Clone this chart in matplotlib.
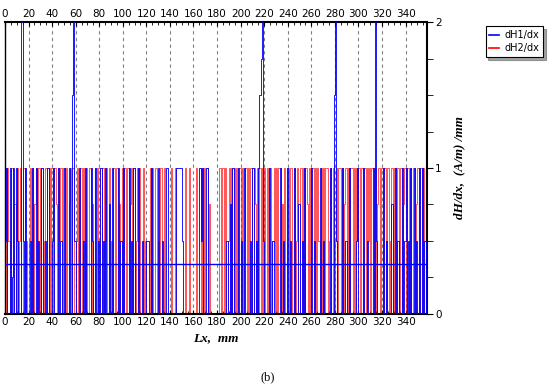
import numpy as np
import matplotlib.pyplot as plt

# values in quarter units (4 = 1.0), one sample per mm
h1_q = [
    2, 4, 0, 0, 4, 0, 1, 4, 0, 4, 2, 0, 0, 0, 8, 2, 0, 4, 0, 0,
    0, 2, 0, 4, 0, 0, 4, 0, 2, 0, 0, 4, 0, 0, 2, 0, 4, 0, 0, 0,
    2, 4, 0, 0, 0, 4, 0, 2, 0, 0, 4, 0, 0, 0, 4, 0, 0, 6, 8, 2,
    0, 0, 0, 4, 0, 0, 2, 0, 4, 0, 0, 0, 0, 4, 2, 0, 4, 0, 0, 2,
    0, 4, 0, 2, 0, 4, 0, 0, 3, 0, 0, 4, 0, 0, 0, 0, 4, 0, 2, 0,
    4, 0, 0, 0, 0, 4, 0, 2, 0, 4, 0, 0, 0, 4, 0, 0, 2, 0, 0, 0,
    2, 2, 0, 0, 4, 0, 0, 0, 0, 0, 4, 0, 0, 2, 0, 0, 0, 4, 0, 0,
    0, 0, 0, 0, 0, 4, 4, 4, 4, 4, 2, 0, 0, 0, 0, 0, 0, 0, 0, 0,
    0, 0, 0, 0, 0, 4, 2, 4, 0, 0, 0, 4, 0, 0, 0, 0, 0, 0, 0, 0,
    0, 0, 0, 0, 0, 0, 0, 0, 2, 0, 0, 3, 0, 4, 0, 0, 0, 0, 4, 0,
    2, 0, 0, 4, 0, 0, 0, 0, 2, 0, 4, 0, 0, 2, 0, 4, 6, 7, 8, 2,
    0, 0, 0, 0, 4, 0, 0, 2, 0, 0, 0, 0, 0, 4, 0, 0, 2, 0, 0, 4,
    0, 0, 2, 0, 0, 4, 0, 0, 0, 3, 0, 0, 2, 0, 4, 0, 0, 0, 0, 0,
    4, 0, 2, 0, 0, 0, 0, 4, 0, 0, 2, 0, 0, 0, 0, 0, 4, 0, 0, 6,
    8, 2, 0, 0, 0, 0, 4, 0, 0, 2, 0, 0, 4, 0, 0, 0, 0, 0, 2, 4,
    0, 0, 0, 0, 4, 0, 0, 2, 0, 0, 0, 0, 4, 0, 8, 2, 0, 0, 0, 0,
    0, 4, 0, 2, 0, 0, 0, 0, 3, 0, 0, 4, 0, 2, 0, 0, 0, 4, 0, 2,
    4, 0, 2, 0, 4, 0, 0, 4, 0, 2, 0, 4, 0, 0, 4, 0, 2, 0,
]

h2_q = [
    4, 0, 4, 2, 0, 4, 4, 0, 3, 0, 4, 0, 2, 4, 0, 4, 4, 0, 2, 0,
    2, 4, 0, 4, 0, 3, 4, 0, 4, 4, 0, 4, 0, 2, 4, 4, 0, 4, 0, 4,
    4, 0, 4, 3, 0, 4, 2, 4, 0, 4, 4, 0, 4, 0, 3, 4, 0, 4, 4, 0,
    2, 4, 0, 0, 4, 0, 4, 2, 0, 4, 0, 4, 4, 0, 3, 0, 4, 4, 0, 4,
    4, 0, 4, 4, 0, 2, 4, 0, 4, 0, 2, 0, 4, 0, 4, 4, 0, 3, 0, 4,
    0, 4, 4, 0, 4, 0, 3, 4, 0, 4, 0, 2, 4, 0, 4, 0, 0, 4, 0, 2,
    0, 0, 0, 4, 0, 4, 0, 4, 4, 0, 2, 0, 4, 0, 0, 4, 0, 0, 0, 0,
    0, 4, 0, 0, 4, 0, 0, 0, 0, 0, 0, 0, 0, 4, 0, 0, 4, 0, 0, 0,
    0, 0, 4, 0, 0, 0, 4, 0, 4, 0, 4, 4, 0, 3, 0, 0, 0, 0, 0, 0,
    0, 0, 4, 0, 4, 4, 0, 4, 0, 2, 4, 0, 4, 0, 4, 0, 4, 0, 4, 4,
    0, 4, 0, 2, 4, 0, 4, 0, 4, 4, 0, 4, 3, 0, 4, 0, 4, 0, 4, 0,
    4, 0, 4, 0, 4, 4, 0, 2, 4, 0, 4, 0, 4, 4, 0, 3, 0, 4, 0, 4,
    4, 0, 4, 4, 0, 4, 0, 2, 4, 0, 4, 4, 0, 4, 0, 4, 3, 0, 4, 0,
    4, 4, 0, 4, 0, 4, 2, 0, 4, 0, 4, 0, 4, 4, 0, 2, 4, 0, 4, 0,
    2, 4, 0, 4, 4, 0, 4, 0, 3, 4, 0, 4, 0, 4, 4, 0, 4, 0, 4, 2,
    4, 0, 4, 4, 0, 4, 0, 4, 2, 4, 0, 4, 4, 0, 4, 0, 3, 4, 0, 4,
    4, 0, 4, 0, 4, 4, 0, 2, 4, 0, 4, 4, 0, 4, 0, 4, 4, 0, 3, 4,
    0, 4, 4, 0, 4, 0, 4, 4, 0, 3, 4, 0, 4, 4, 0, 4, 0, 4,
]

h1_level = 0.34
x_ticks = list(range(0, 341, 20))
y_ticks = [0, 1, 2]

h1 = np.array(h1_q) / 4.0
h2 = np.array(h2_q) / 4.0
x = np.arange(len(h1))

fig = plt.figure(figsize=(5.5, 3.88), dpi=100)
ax = fig.add_axes([0.009, 0.191, 0.767, 0.752])

ax.plot(x, h2, drawstyle="steps-post", color="#ff0000", lw=0.55, alpha=0.85,
        label="dH2/dx", zorder=2)
ax.plot(x, h1, drawstyle="steps-post", color="#0000ff", lw=0.7, alpha=0.9,
        label="dH1/dx", zorder=3)
ax.axhline(h1_level, color="#0000ff", lw=1.0, zorder=4)

ax.set_xlim(0, 358)
ax.set_ylim(0, 2)
ax.set_xticks(x_ticks)
ax.set_xticks(np.arange(0, 358, 5), minor=True)
ax.tick_params(axis="x", which="both", top=True, labeltop=True, bottom=True,
               labelbottom=True, direction="in", labelsize=7.5, pad=2)
ax.tick_params(axis="x", which="major", length=3)
ax.tick_params(axis="x", which="minor", length=2)
ax.grid(axis="x", color="gray", ls=(0, (3, 3)), lw=0.8)

ax.yaxis.tick_right()
ax.set_yticks(y_ticks)
ax.set_yticks(np.arange(0, 2.01, 0.25), minor=True)
ax.tick_params(axis="y", which="both", direction="out", length=4, labelsize=7.5, pad=2)
for s in ax.spines.values():
    s.set_linewidth(1.5)
ax.spines["left"].set_linewidth(1.0)

ax.yaxis.set_label_position("right")
ax.set_ylabel("dH/dx,  (A/m) /mm", fontfamily="Liberation Serif", fontweight="bold",
              fontstyle="italic", fontsize=9.5, labelpad=8)
ax.set_xlabel("Lx,  mm", fontfamily="Liberation Serif", fontweight="bold",
              fontstyle="italic", fontsize=9.5, labelpad=4)

handles, labels = ax.get_legend_handles_labels()
leg = fig.legend(handles[::-1], labels[::-1], loc="upper left", bbox_to_anchor=(0.874, 0.945),
                 fontsize=7, frameon=True, fancybox=False, shadow=True,
                 handlelength=1.0, handletextpad=0.5, borderpad=0.4, labelspacing=0.3)
leg.get_frame().set_edgecolor("black")
leg.get_frame().set_linewidth(0.8)
for ln in leg.get_lines():
    ln.set_linewidth(1.2)
    ln.set_alpha(1)

fig.text(0.487, 0.02, "(b)", fontfamily="Liberation Serif", fontsize=9, ha="center")

fig.savefig("out.png", dpi=100)
